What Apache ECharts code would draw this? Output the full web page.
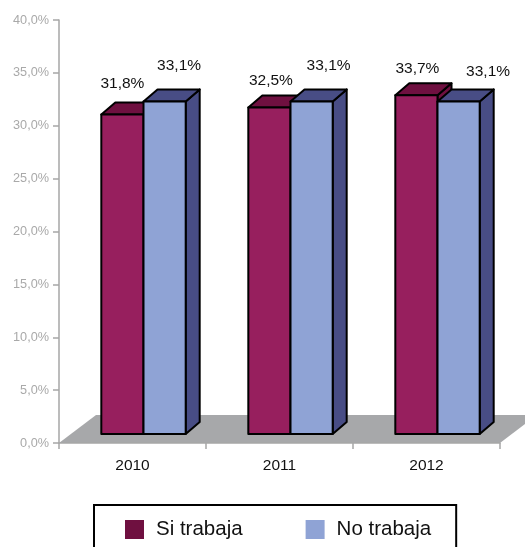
<!DOCTYPE html>
<html><head><meta charset="utf-8">
<script src="https://cdn.jsdelivr.net/npm/echarts@6/dist/echarts.min.js"></script>
<style>html,body{margin:0;padding:0;background:#fff;overflow:hidden}#c{width:525px;height:547px}</style>
</head><body><div id="c"></div>
<script>
var categories = ['2010', '2011', '2012'];
var siTrabaja = [31.8, 32.5, 33.7];
var noTrabaja = [33.1, 33.1, 33.1];
var siLabels = ['31,8%', '32,5%', '33,7%'];
var noLabels = ['33,1%', '33,1%', '33,1%'];

// 3D look: pixel depth of the extrusion, and the per-label nudges of the reference
var DEPTH_X = 14, DEPTH_Y = 12;
var FLOOR_X = 37, FLOOR_Y = 28;
var BAR_SHIFT = 11, BAR_SHARE = 0.287;
var siNudge = [[0, -30.5], [1.5, -27], [1, -27]];
var noNudge = [[14.5, -35.7], [17, -35.7], [29.5, -30]];

function barRenderer(sign, front, dark, labels, nudge) {
  return function (params, api) {
    var i = api.value(0), v = api.value(1);
    var top = api.coord([i, v]), base = api.coord([i, 0]);
    var w = api.size([1, 0])[0] * BAR_SHARE;
    var x0 = top[0] + BAR_SHIFT + (sign < 0 ? -w : 0), x1 = x0 + w;
    var y0 = top[1], y1 = base[1];
    var stroke = { stroke: '#000', lineWidth: 2, lineJoin: 'round' };
    function poly(pts, fill) {
      return { type: 'polygon', shape: { points: pts }, style: Object.assign({ fill: fill }, stroke) };
    }
    return {
      type: 'group',
      children: [
        poly([[x1, y0], [x1 + DEPTH_X, y0 - DEPTH_Y], [x1 + DEPTH_X, y1 - DEPTH_Y], [x1, y1]], dark),
        poly([[x0, y0], [x0 + DEPTH_X, y0 - DEPTH_Y], [x1 + DEPTH_X, y0 - DEPTH_Y], [x1, y0]], dark),
        poly([[x0, y0], [x1, y0], [x1, y1], [x0, y1]], front),
        {
          type: 'text',
          style: {
            text: labels[i], x: (x0 + x1) / 2 + nudge[i][0], y: y0 + nudge[i][1],
            align: 'center', verticalAlign: 'middle',
            font: '15.5px "Liberation Sans", Arial, sans-serif', fill: '#111'
          }
        }
      ]
    };
  };
}

function floorRenderer(params, api) {
  var c = params.coordSys, bx = c.x, by = c.y + c.height, ex = c.x + c.width;
  return {
    type: 'polygon',
    shape: { points: [[bx, by], [bx + FLOOR_X, by - FLOOR_Y], [ex + FLOOR_X, by - FLOOR_Y], [ex, by]] },
    style: { fill: '#a7a8aa' }
  };
}

var chart = echarts.init(document.getElementById('c'), null, { renderer: 'canvas' });
chart.setOption({
  animation: false,
  backgroundColor: '#fff',
  grid: { left: 59, top: 20, width: 441, height: 423 },
  legend: {
    data: [
      { name: 'Si trabaja', itemStyle: { color: '#6f1040', borderWidth: 0 } },
      { name: 'No trabaja', itemStyle: { color: '#8fa3d5', borderWidth: 0 } }
    ],
    left: 94, top: 505,
    orient: 'horizontal',
    icon: 'rect', itemWidth: 19, itemHeight: 19, itemGap: 63,
    padding: [14, 25, 24, 31],
    borderColor: '#000', borderWidth: 2,
    textStyle: { fontFamily: '"Liberation Sans", Arial, sans-serif', fontSize: 20.5, color: '#111', padding: [0, 0, 0, 7] }
  },
  xAxis: {
    type: 'category', data: categories, z: 5,
    axisLine: { lineStyle: { color: '#a6a6a6', width: 1.5 } },
    axisTick: { show: true, alignWithLabel: false, length: 6, lineStyle: { color: '#a6a6a6', width: 1.5 } },
    axisLabel: { color: '#111', fontSize: 15.5, margin: 15, fontFamily: '"Liberation Sans", Arial, sans-serif' }
  },
  yAxis: [
    {
      type: 'value', min: 0, max: 40, interval: 5, z: 5,
      axisLine: { show: true, lineStyle: { color: '#a6a6a6', width: 1.5 } },
      axisTick: { show: true, length: 6, lineStyle: { color: '#a6a6a6', width: 1.5 } },
      splitLine: { show: false },
      axisLabel: {
        color: '#a9a9a9', fontSize: 12.7, margin: 10,
        fontFamily: '"Liberation Sans", Arial, sans-serif',
        formatter: function (v) { return v.toFixed(1).replace('.', ',') + '%'; }
      }
    },
    // hidden front plane of the 3D box: its 0 sits on the floor, in front of the wall
    { type: 'value', min: -0.9, max: 41.2, show: false, splitLine: { show: false } }
  ],
  series: [
    { type: 'custom', name: 'floor', silent: true, clip: false, z: 1, renderItem: floorRenderer, data: [[0, 0]], encode: { x: 0, y: 1 } },
    {
      type: 'custom', name: 'Si trabaja', yAxisIndex: 1, clip: false, z: 2, silent: true,
      itemStyle: { color: '#6f1040' },
      renderItem: barRenderer(-1, '#971f5e', '#6f1040', siLabels, siNudge),
      encode: { x: 0, y: 1 },
      data: siTrabaja.map(function (v, i) { return [i, v]; })
    },
    {
      type: 'custom', name: 'No trabaja', yAxisIndex: 1, clip: false, z: 3, silent: true,
      itemStyle: { color: '#8fa3d5' },
      renderItem: barRenderer(1, '#8fa3d5', '#484d85', noLabels, noNudge),
      encode: { x: 0, y: 1 },
      data: noTrabaja.map(function (v, i) { return [i, v]; })
    }
  ]
});
</script></body></html>
